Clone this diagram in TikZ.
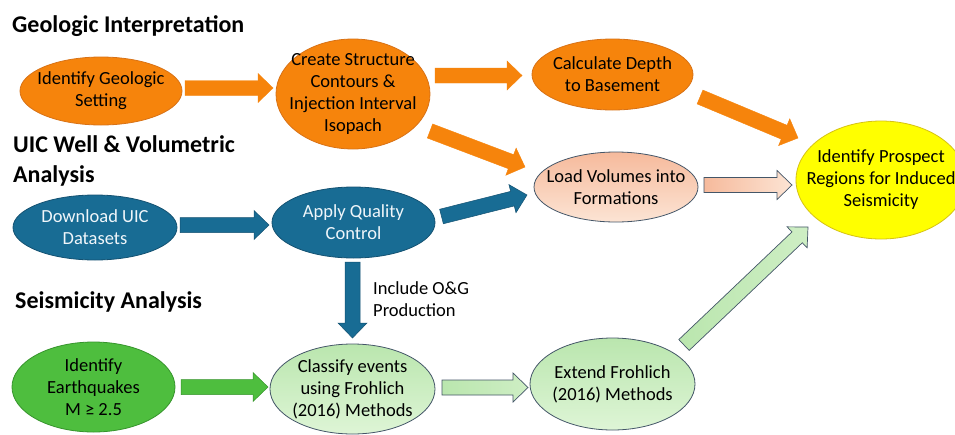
\documentclass[tikz,border=0pt]{standalone}
\usepackage{fontspec}
\setmainfont{Carlito}
\usetikzlibrary{shapes.geometric,calc}

\definecolor{geoorange}{RGB}{246,132,12}
\definecolor{geoedge}{RGB}{216,114,22}
\definecolor{uicblue}{RGB}{24,108,148}
\definecolor{uicedge}{RGB}{20,82,114}
\definecolor{uictext}{RGB}{240,246,250}
\definecolor{eqgreen}{RGB}{78,190,62}
\definecolor{eqedge}{RGB}{54,148,44}
\definecolor{palegreenA}{RGB}{186,230,174}
\definecolor{palegreenB}{RGB}{222,245,214}
\definecolor{palegreenC}{RGB}{206,238,196}
\definecolor{peachA}{RGB}{246,186,156}
\definecolor{peachB}{RGB}{252,228,212}
\definecolor{slate}{RGB}{68,86,104}
\definecolor{prospectyellow}{RGB}{255,255,0}
\definecolor{prospectedge}{RGB}{214,194,20}

% block arrow from a tail coordinate to a tip coordinate
\newcommand\blockarrow[3]{%
  \coordinate (ba-n) at ($(#3)!15pt!(#2)$);
  \path[#1] ($(#2)!7.5pt!90:(#3)$) -- ($(ba-n)!7.5pt!90:(#3)$)
    -- ($(ba-n)!14.5pt!90:(#3)$) -- (#3)
    -- ($(ba-n)!14.5pt!-90:(#3)$) -- ($(ba-n)!7.5pt!-90:(#3)$)
    -- ($(#2)!7.5pt!-90:(#3)$) -- cycle;}

\tikzset{
  stage/.style={ellipse, inner sep=-30pt, align=center,
    font=\fontsize{18.5}{22}\selectfont, line width=0.8pt},
  geostage/.style={stage, fill=geoorange, draw=geoedge},
  uicstage/.style={stage, fill=uicblue, draw=uicedge, text=uictext},
  eqstage/.style={stage, fill=eqgreen, draw=eqedge},
  palestage/.style={stage, top color=palegreenA, bottom color=palegreenB, draw=slate},
  peachstage/.style={stage, top color=peachA, bottom color=peachB, draw=slate},
  goalstage/.style={stage, fill=prospectyellow, draw=prospectedge},
  heading/.style={inner sep=0pt, anchor=base west, align=left,
    font=\fontsize{24}{30}\selectfont\bfseries},
  geoarrow/.style={fill=geoorange, draw=geoorange, line width=0.4pt},
  uicarrow/.style={fill=uicblue, draw=uicedge, line width=0.5pt},
  eqarrow/.style={fill=eqgreen, draw=eqedge, line width=0.5pt},
  palearrow/.style={left color=palegreenA, right color=palegreenC, draw=slate, line width=0.7pt},
  peacharrow/.style={left color=peachA, right color=peachB, draw=slate, line width=0.7pt},
}

\begin{document}
\begin{tikzpicture}[x=1pt, y=-1pt]
  \clip (0,0) rectangle (955,434);
  \fill[white] (0,0) rectangle (955,434);

  % section headings (base anchor sits on the last line)
  \node[heading] (hgeo) at (12,32) {Geologic Interpretation};
  \node[heading] (huic) at (13,182) {UIC Well \& Volumetric\\Analysis};
  \node[heading] (hseis) at (15,308) {Seismicity Analysis};

  % geologic interpretation
  \node[geostage, minimum width=162, minimum height=68] (geo) at (101,91)
    {Identify Geologic\\Setting};
  \node[geostage, minimum width=154, minimum height=110] (create) at (353,94)
    {Create Structure\\Contours \&\\Injection Interval\\Isopach};
  \node[geostage, minimum width=161, minimum height=71] (calc) at (612.5,74.5)
    {Calculate Depth\\to Basement};

  % UIC well and volumetric analysis
  \node[uicstage, minimum width=164, minimum height=65] (download) at (95,227.5)
    {Download UIC\\Datasets};
  \node[uicstage, minimum width=163, minimum height=71] (apply) at (353.5,222.5)
    {Apply Quality\\Control};
  \node[peachstage, minimum width=164, minimum height=70] (load) at (616,187)
    {Load Volumes into\\Formations};

  % seismicity analysis
  \node[eqstage, minimum width=163, minimum height=90] (quake) at (93.5,387)
    {Identify\\Earthquakes\\M ≥ 2.5};
  \node[palestage, minimum width=165, minimum height=90] (classify) at (352.5,389)
    {Classify events\\using Frohlich\\(2016) Methods};
  \node[palestage, minimum width=165, minimum height=92] (extend) at (612.5,384)
    {Extend Frohlich\\(2016) Methods};

  % outcome
  \node[goalstage, minimum width=170, minimum height=118] (prospect) at (881,180)
    {Identify Prospect\\Regions for Induced\\Seismicity};

  \node[inner sep=0pt, anchor=base west, align=left,
    font=\fontsize{18.5}{22}\selectfont] (og) at (373,316)
    {Include O\&G\\Production};

  % arrow end points
  \coordinate (a1t) at ([shift={(84,-3)}]geo);
  \coordinate (a1h) at ([shift={(-80,-6)}]create);
  \coordinate (a2t) at ([shift={(82,-18.5)}]create);
  \coordinate (a2h) at ([shift={(-90.5,1)}]calc);
  \coordinate (a3t) at ([shift={(77,37)}]create);
  \coordinate (a3h) at ([shift={(-91,-20)}]load);
  \coordinate (a4t) at ([shift={(87.5,22.5)}]calc);
  \coordinate (a4h) at ([shift={(-83,-42)}]prospect);
  \coordinate (a5t) at ([shift={(88,-2)}]load);
  \coordinate (a5h) at ([shift={(-89,5)}]prospect);
  \coordinate (a6t) at ([shift={(85,-2.5)}]download);
  \coordinate (a6h) at ([shift={(-84.5,2.5)}]apply);
  \coordinate (a7t) at ([shift={(88,-6)}]apply);
  \coordinate (a7h) at ([shift={(-89,8)}]load);
  \coordinate (a8t) at ([shift={(-1,39.5)}]apply);
  \coordinate (a8h) at ([shift={(0,-51)}]classify);
  \coordinate (a9t) at ([shift={(87.5,0)}]quake);
  \coordinate (a9h) at ([shift={(-84.5,-2)}]classify);
  \coordinate (a10t) at ([shift={(89.5,-1.5)}]classify);
  \coordinate (a10h) at ([shift={(-84.5,3.5)}]extend);
  \coordinate (a11t) at ([shift={(71.5,-39)}]extend);
  \coordinate (a11h) at ([shift={(-73,47)}]prospect);

  % arrows
  \blockarrow{geoarrow}{a1t}{a1h}
  \blockarrow{geoarrow}{a2t}{a2h}
  \blockarrow{geoarrow}{a3t}{a3h}
  \blockarrow{geoarrow}{a4t}{a4h}
  \blockarrow{peacharrow}{a5t}{a5h}
  \blockarrow{uicarrow}{a6t}{a6h}
  \blockarrow{uicarrow}{a7t}{a7h}
  \blockarrow{uicarrow}{a8t}{a8h}
  \blockarrow{eqarrow}{a9t}{a9h}
  \blockarrow{palearrow}{a10t}{a10h}
  \blockarrow{palearrow}{a11t}{a11h}
\end{tikzpicture}
\end{document}
